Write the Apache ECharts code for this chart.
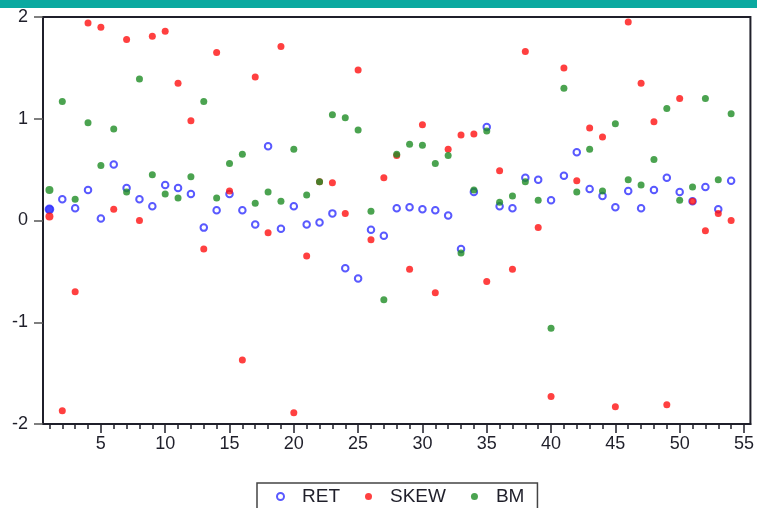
<!DOCTYPE html>
<html>
<head>
<meta charset="utf-8">
<script src="https://cdn.jsdelivr.net/npm/echarts@6/dist/echarts.min.js"></script>
<style>
  html, body { margin: 0; padding: 0; background: #ffffff; }
  #chart { width: 757px; height: 508px; }
</style>
</head>
<body>
<div id="chart"></div>
<script>
// Observation index 1..54
const obs = Array.from({ length: 54 }, (_, i) => i + 1);

const ret = [
  0.11, 0.21, 0.12, 0.30, 0.02, 0.55, 0.32, 0.21, 0.14, 0.35,
  0.32, 0.26, -0.07, 0.10, 0.26, 0.10, -0.04, 0.73, -0.08, 0.14,
  -0.04, -0.02, 0.07, -0.47, -0.57, -0.09, -0.15, 0.12, 0.13, 0.11,
  0.10, 0.05, -0.28, 0.28, 0.92, 0.14, 0.12, 0.42, 0.40, 0.20,
  0.44, 0.67, 0.31, 0.24, 0.13, 0.29, 0.12, 0.30, 0.42, 0.28,
  0.19, 0.33, 0.11, 0.39
];

const skew = [
  0.04, -1.87, -0.70, 1.94, 1.90, 0.11, 1.78, 0.00, 1.81, 1.86,
  1.35, 0.98, -0.28, 1.65, 0.29, -1.37, 1.41, -0.12, 1.71, -1.89,
  -0.35, 0.38, 0.37, 0.07, 1.48, -0.19, 0.42, 0.64, -0.48, 0.94,
  -0.71, 0.70, 0.84, 0.85, -0.60, 0.49, -0.48, 1.66, -0.07, -1.73,
  1.50, 0.39, 0.91, 0.82, -1.83, 1.95, 1.35, 0.97, -1.81, 1.20,
  0.19, -0.10, 0.07, 0.00
];

const bm = [
  0.30, 1.17, 0.21, 0.96, 0.54, 0.90, 0.28, 1.39, 0.45, 0.26,
  0.22, 0.43, 1.17, 0.22, 0.56, 0.65, 0.17, 0.28, 0.19, 0.70,
  0.25, 0.38, 1.04, 1.01, 0.89, 0.09, -0.78, 0.65, 0.75, 0.74,
  0.56, 0.64, -0.32, 0.30, 0.88, 0.18, 0.24, 0.38, 0.20, -1.06,
  1.30, 0.28, 0.70, 0.29, 0.95, 0.40, 0.35, 0.60, 1.10, 0.20,
  0.33, 1.20, 0.40, 1.05
];

const xMinorTicks = Array.from({ length: 55 }, (_, i) => i + 1);
const xMajorTicks = [5, 10, 15, 20, 25, 30, 35, 40, 45, 50, 55];
const yTicks = [-2, -1, 0, 1, 2];

const pairs = ys => obs.map((x, i) => [x, ys[i]]);

const chart = echarts.init(document.getElementById('chart'), null, { renderer: 'canvas' });

const font = 'Liberation Sans, Arial, sans-serif';
const ink = '#1f1f2a';

const xBase = {
  type: 'value',
  min: 0.5,
  max: 55.5,
  position: 'bottom',
  splitLine: { show: false }
};

chart.setOption({
  animation: false,
  backgroundColor: '#ffffff',
  graphic: [
    {
      type: 'rect',
      left: 0, top: 0,
      shape: { width: 757, height: 8 },
      style: { fill: '#0aa9a0' },
      silent: true
    }
  ],
  grid: {
    left: 43, right: 5, top: 17, bottom: 84,
    show: true,
    borderColor: ink,
    borderWidth: 2,
    backgroundColor: '#ffffff'
  },
  legend: {
    left: 257,
    top: 483,
    orient: 'horizontal',
    data: ['RET', 'SKEW', 'BM'],
    borderColor: '#444',
    borderWidth: 1.5,
    padding: [4, 13, 12, 19],
    itemWidth: 7,
    itemHeight: 7,
    itemGap: 25,
    textStyle: { fontFamily: font, fontSize: 19, color: ink, padding: [0, 0, 0, 13] }
  },
  xAxis: [
    Object.assign({}, xBase, {
      axisLine: { show: true, onZero: false, lineStyle: { color: ink, width: 2 } },
      axisTick: { show: true, customValues: xMinorTicks, length: 5, lineStyle: { color: ink, width: 1.5 } },
      axisLabel: { show: false }
    }),
    Object.assign({}, xBase, {
      axisLine: { show: false, onZero: false },
      axisTick: { show: true, customValues: xMajorTicks, length: 9, lineStyle: { color: ink, width: 1.5 } },
      axisLabel: {
        show: true,
        customValues: xMajorTicks,
        fontFamily: font,
        fontSize: 18,
        color: ink,
        margin: 11
      }
    })
  ],
  yAxis: {
    type: 'value',
    min: -2,
    max: 2,
    interval: 1,
    splitLine: { show: false },
    axisLine: { show: true, onZero: false, lineStyle: { color: ink, width: 2 } },
    axisTick: { show: true, length: 9, lineStyle: { color: '#555', width: 1.5 } },
    axisLabel: {
      fontFamily: font,
      fontSize: 18,
      color: ink,
      margin: 15,
      customValues: yTicks
    }
  },
  series: [
    {
      name: 'RET',
      type: 'scatter',
      xAxisIndex: 0,
      symbol: 'emptyCircle',
      symbolSize: 6.5,
      itemStyle: { color: '#2f2fff', borderColor: '#2f2fff', borderWidth: 1.7 },
      data: pairs(ret).map((p, i) => i === 0
        ? { value: p, symbol: 'circle', symbolSize: 8, itemStyle: { color: '#1a1aff' } }
        : p)
    },
    {
      name: 'SKEW',
      type: 'scatter',
      xAxisIndex: 0,
      symbol: 'circle',
      symbolSize: 7,
      itemStyle: { color: '#ff1010' },
      data: pairs(skew).map((p, i) => i === 0 ? { value: p, symbolSize: 8 } : p)
    },
    {
      name: 'BM',
      type: 'scatter',
      xAxisIndex: 0,
      symbol: 'circle',
      symbolSize: 7,
      itemStyle: { color: '#1e8c24' },
      data: pairs(bm).map((p, i) => i === 0 ? { value: p, symbolSize: 8 } : p)
    }
  ]
});
</script>
</body>
</html>
